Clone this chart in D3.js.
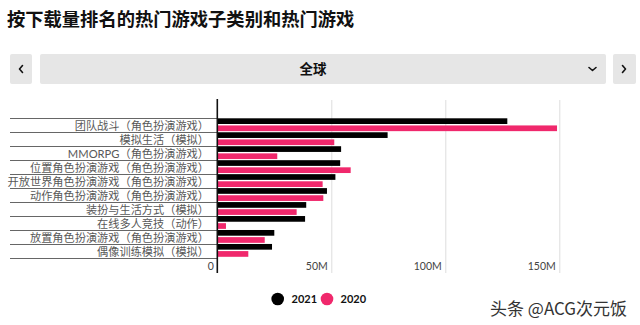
<!DOCTYPE html>
<html>
<head>
<meta charset="utf-8">
<script src="https://cdn.jsdelivr.net/npm/d3@7"></script>
<style>
  html, body { margin: 0; padding: 0; background: #fff; }
  svg { display: block; }
</style>
</head>
<body>
<svg id="chart" width="640" height="325"></svg>
<script>
// ---- data (values in millions of downloads) ----
const categories = [
  "团队战斗（角色扮演游戏）",
  "模拟生活（模拟）",
  "MMORPG（角色扮演游戏）",
  "位置角色扮演游戏（角色扮演游戏）",
  "开放世界角色扮演游戏（角色扮演游戏）",
  "动作角色扮演游戏（角色扮演游戏）",
  "装扮与生活方式（模拟）",
  "在线多人竞技（动作）",
  "放置角色扮演游戏（角色扮演游戏）",
  "偶像训练模拟（模拟）"
];
const seriesNames = ["2021", "2020"];
const values2021 = [127.2, 74.7, 54.3, 53.9, 51.8, 48.1, 39.0, 38.5, 25.0, 24.0];
const values2020 = [149.0, 51.3, 26.3, 58.5, 46.2, 46.5, 34.8, 3.8, 20.8, 13.6];
const tickValues = [0, 50, 100, 150];
const tickLabels = ["0", "50M", "100M", "150M"];
const titleText = "按下载量排名的热门游戏子类别和热门游戏";
const regionText = "全球";
const watermarkText = "头条 @ACG次元饭";

const colors = { "2021": "#000000", "2020": "#f0286c" };
const CJK = "'Noto Sans CJK SC', 'Noto Sans', sans-serif";
const LATIN = "Lato, 'Noto Sans CJK SC', sans-serif";

const svg = d3.select("#chart");

// ---- title ----
svg.append("text")
  .attr("x", 7).attr("y", 26)
  .attr("font-family", CJK).attr("font-size", 18.3).attr("font-weight", 700)
  .attr("fill", "#111")
  .text(titleText);

// ---- selector bar ----
const barFill = "#e6e6e6";
svg.append("rect").attr("x", 10).attr("y", 54).attr("width", 22).attr("height", 30).attr("rx", 2).attr("fill", barFill);
svg.append("rect").attr("x", 40).attr("y", 54).attr("width", 566).attr("height", 30).attr("rx", 2).attr("fill", barFill);
svg.append("rect").attr("x", 613).attr("y", 54).attr("width", 23).attr("height", 30).attr("rx", 2).attr("fill", barFill);
const chev = (d) => svg.append("path").attr("d", d).attr("fill", "none")
  .attr("stroke", "#111").attr("stroke-width", 1.6).attr("stroke-linecap", "round").attr("stroke-linejoin", "round");
chev("M22.5,65.5 L19.5,69 L22.5,72.5");
chev("M622.5,65.5 L625.5,69 L622.5,72.5");
chev("M589,67.5 L592.5,70.5 L596,67.5");
svg.append("text")
  .attr("x", 313).attr("y", 69).attr("dy", "0.35em")
  .attr("text-anchor", "middle")
  .attr("font-family", CJK).attr("font-size", 13.5).attr("font-weight", 700)
  .attr("fill", "#111")
  .text(regionText);

// ---- scales ----
const x = d3.scaleLinear().domain([0, 150]).range([217.3, 559.3]);
const y = d3.scaleBand().domain(categories).range([118.3, 256.8]).paddingInner(0.08).paddingOuter(0);
const yInner = d3.scaleBand().domain(seriesNames).range([0, y.bandwidth()]).paddingInner(0.2);

const axisTop = 100, axisBottom = 273;

// gridlines + tick labels via axis
const xAxis = d3.axisBottom(x)
  .tickValues(tickValues)
  .tickFormat((d, i) => tickLabels[i])
  .tickSizeInner(-(axisBottom - axisTop))
  .tickSizeOuter(0);
const gx = svg.append("g").attr("transform", `translate(0,${axisBottom})`).call(xAxis);
gx.select(".domain").remove();
gx.selectAll(".tick line").attr("stroke", "#dddddd").attr("stroke-width", 1)
  .filter(d => d === 0).remove();
gx.selectAll(".tick text")
  .attr("y", -6.3).attr("dy", "0.35em").attr("x", -4)
  .attr("text-anchor", "end")
  .attr("font-family", LATIN).attr("font-size", 10.5).attr("fill", "#444");

// category separator lines
const sepYs = categories.map(c => y(c)).concat([y(categories[categories.length - 1]) + y.step()]);
svg.append("g").selectAll("line").data(sepYs).join("line")
  .attr("x1", 10).attr("x2", x(0))
  .attr("y1", d => Math.round(d) + 0.5).attr("y2", d => Math.round(d) + 0.5)
  .attr("stroke", "#666").attr("stroke-width", 1);

// category labels
svg.append("g").selectAll("text").data(categories).join("text")
  .attr("x", 209)
  .attr("y", d => y(d) + y.bandwidth() / 2 + 1.5)
  .attr("dy", "0.35em")
  .attr("text-anchor", "end")
  .attr("font-family", LATIN).attr("font-size", 11.2).attr("fill", "#585858")
  .text(d => d);

// bars
const rows = categories.map((c, i) => ({ cat: c, vals: [
  { s: "2021", v: values2021[i] },
  { s: "2020", v: values2020[i] }
]}));
const g = svg.append("g").selectAll("g").data(rows).join("g")
  .attr("transform", d => `translate(0,${y(d.cat)})`);
g.selectAll("rect").data(d => d.vals).join("rect")
  .attr("x", x(0))
  .attr("y", d => yInner(d.s))
  .attr("width", d => x(d.v) - x(0))
  .attr("height", yInner.bandwidth())
  .attr("fill", d => colors[d.s]);

// zero axis line
svg.append("line")
  .attr("x1", x(0)).attr("x2", x(0)).attr("y1", 99).attr("y2", axisBottom)
  .attr("stroke", "#111").attr("stroke-width", 1.6);

// legend
const legend = svg.append("g");
const legendItems = [{ s: "2021", cx: 277.7, tx: 291.5 }, { s: "2020", cx: 327, tx: 340.5 }];
legendItems.forEach(it => {
  legend.append("circle").attr("cx", it.cx).attr("cy", 299).attr("r", 6.3).attr("fill", colors[it.s]);
  legend.append("text").attr("x", it.tx).attr("y", 299).attr("dy", "0.35em")
    .attr("font-family", LATIN).attr("font-size", 11).attr("font-weight", 700).attr("fill", "#111")
    .text(it.s);
});

// watermark caption
svg.append("text")
  .attr("x", 490).attr("y", 309).attr("dy", "0.35em")
  .attr("font-family", CJK).attr("font-size", 17).attr("fill", "#333")
  .text(watermarkText);
</script>
</body>
</html>
